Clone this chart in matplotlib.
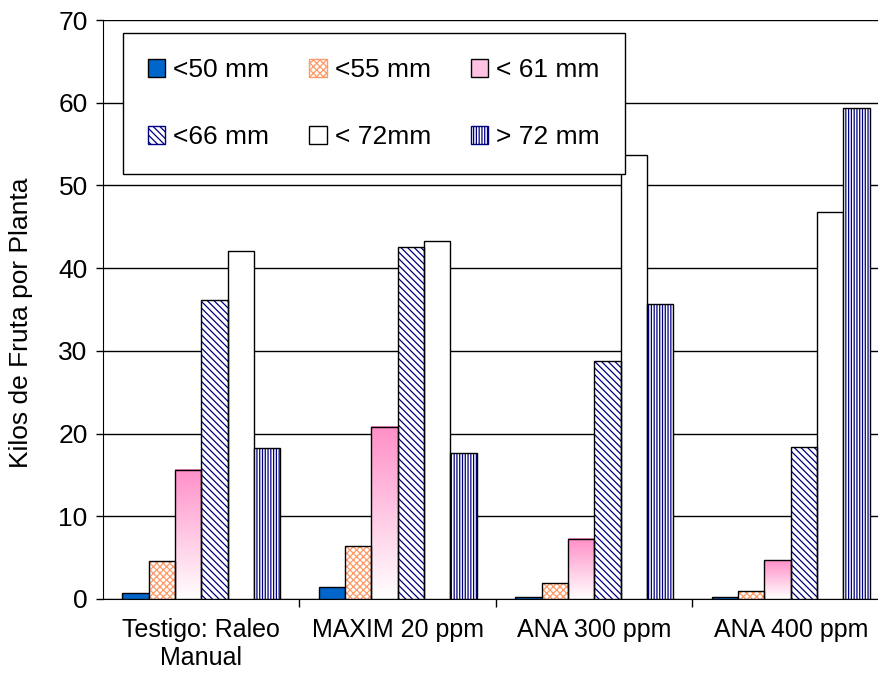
import matplotlib
matplotlib.use("Agg")
import matplotlib.pyplot as plt
from matplotlib.patches import Patch
import matplotlib.colors as mcolors
import numpy as np

# data
categories = ["Testigo: Raleo\nManual", "MAXIM 20 ppm", "ANA 300 ppm", "ANA 400 ppm"]
series = ["<50 mm", "<55 mm", "< 61 mm", "<66 mm", "< 72mm", "> 72 mm"]
v_lt50 = [0.7, 1.45, 0.2, 0.2]
v_lt55 = [4.6, 6.4, 1.9, 1.0]
v_lt61 = [15.6, 20.8, 7.3, 4.7]
v_lt66 = [36.1, 42.5, 28.8, 18.4]
v_lt72 = [42.1, 43.3, 53.7, 46.8]
v_gt72 = [18.2, 17.7, 35.7, 59.4]
values = [v_lt50, v_lt55, v_lt61, v_lt66, v_lt72, v_gt72]
yticks = [0, 10, 20, 30, 40, 50, 60, 70]

plt.rcParams["font.family"] = ["Liberation Sans", "DejaVu Sans"]
plt.rcParams["hatch.linewidth"] = 0.9

NAVY = "#000080"; BLUE = "#0066CC"; ORANGE = "#FF9966"; PINK = "#FF8FC8"
DIAG = "\\\\\\\\\\"
VERT = "||||||"

fig = plt.figure(figsize=(8.79, 6.74), dpi=100)
ax = fig.add_axes([103 / 879, 1 - 599 / 674, 786 / 879, 579 / 674])

x = np.arange(len(categories))
w = 0.804 / 6
pink_grad = mcolors.LinearSegmentedColormap.from_list("pk", ["#FFFFFF", PINK])

for i, vals in enumerate(values):
    pos = x + (i - 2.5) * w
    if i == 0:
        ax.bar(pos, vals, w, color=BLUE, edgecolor="black", lw=1, zorder=3)
    elif i == 1:
        ax.bar(pos, vals, w, color="white", edgecolor=ORANGE, hatch="xxxxx", lw=0, zorder=3)
        ax.bar(pos, vals, w, fill=False, edgecolor="black", lw=1, zorder=4)
    elif i == 2:
        bars = ax.bar(pos, vals, w, fill=False, edgecolor="black", lw=1, zorder=4)
        for b in bars:
            grad = np.linspace(0, 1, 256).reshape(-1, 1)
            ax.imshow(grad, cmap=pink_grad, origin="lower", aspect="auto",
                      extent=[b.get_x(), b.get_x() + b.get_width(), 0, b.get_height()],
                      zorder=3)
    elif i == 3:
        ax.bar(pos, vals, w, color="white", edgecolor=NAVY, hatch=DIAG, lw=0, zorder=3)
        ax.bar(pos, vals, w, fill=False, edgecolor="black", lw=1, zorder=4)
    elif i == 4:
        ax.bar(pos, vals, w, color="white", edgecolor="black", lw=1, zorder=3)
    else:
        ax.bar(pos, vals, w, color="white", edgecolor=NAVY, hatch=VERT, lw=0, zorder=3)
        ax.bar(pos, vals, w, fill=False, edgecolor="black", lw=1, zorder=4)

ax.set_xlim(-0.5, 3.5)
ax.set_ylim(0, 70)

ax.set_yticks(yticks)
ax.tick_params(axis="y", labelsize=19, length=5, width=1, pad=6)
ax.grid(axis="y", color="black", lw=1, zorder=1)
ax.set_axisbelow(True)
ax.set_ylabel("Kilos de Fruta por Planta", fontsize=19)
ax.yaxis.set_label_coords(-0.089, 0.477)

ax.set_xticks(x)
ax.set_xticklabels(categories, fontsize=18)
ax.tick_params(axis="x", length=0, pad=14)
ax.set_xticks(np.arange(0.5, 3.5, 1), minor=True)
ax.tick_params(axis="x", which="minor", length=6, width=1)

for s in ("top", "right"):
    ax.spines[s].set_visible(False)

handles = [
    Patch(facecolor=BLUE, edgecolor="black"),
    Patch(facecolor="white", edgecolor=ORANGE, hatch="xxxxx"),
    Patch(facecolor="#FFC2E0", edgecolor="black"),
    Patch(facecolor="white", edgecolor=NAVY, hatch=DIAG),
    Patch(facecolor="white", edgecolor="black"),
    Patch(facecolor="white", edgecolor=NAVY, hatch=VERT),
]
# legend fills column by column; reorder so it reads row by row
order = [0, 3, 1, 4, 2, 5]
leg = fig.legend([handles[k] for k in order], [series[k] for k in order],
                 ncol=3, loc="upper left", mode="expand", borderaxespad=0,
                 bbox_to_anchor=(123 / 879, 1 - 168 / 674, 502 / 879, 135 / 674),
                 fontsize=19, frameon=True, fancybox=False, edgecolor="black",
                 framealpha=1, handlelength=0.66, handleheight=0.66, handletextpad=0.3,
                 labelspacing=1.63, borderpad=0.95, columnspacing=1.0)
leg.get_frame().set_linewidth(1)

fig.savefig("out.png", dpi=100)
